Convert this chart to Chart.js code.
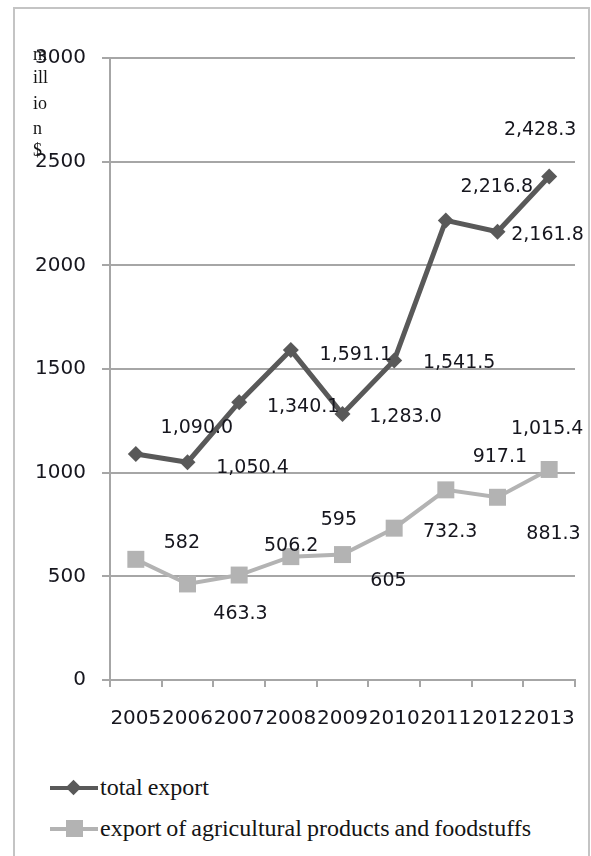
<!DOCTYPE html>
<html>
<head>
<meta charset="utf-8">
<script src="https://cdn.jsdelivr.net/npm/chart.js@4/dist/chart.umd.min.js"></script>
<style>
  html, body { margin: 0; padding: 0; background: #fff; }
  body { width: 591px; height: 856px; position: relative; overflow: hidden; }
  #frame { position: absolute; left: 13px; top: 7px; width: 577px; height: 900px;
           border: 2px solid #c4c4c4; box-sizing: border-box; }
  #wrap { position: absolute; left: 0; top: 0; width: 591px; height: 760px; }
  .legend { position: absolute; left: 50px; font-family: "Liberation Serif", serif;
            font-size: 24px; color: #141414; word-spacing: -1px; display: flex; align-items: center; }
  .legend .icon { position: relative; width: 48px; height: 20px; margin-right: 2px; }
  .legend .icon .ln { position: absolute; left: 0; right: 0; top: 8px; height: 4px; }
  .legend .icon .mk { position: absolute; }
</style>
</head>
<body>
<div id="frame"></div>
<div id="wrap"><canvas id="myChart" width="591" height="760"></canvas></div>
<div class="legend" style="top:774px">
  <div class="icon"><div class="ln" style="background:#595959"></div>
    <div class="mk" style="left:18px;top:4px;width:11px;height:11px;background:#595959;transform:rotate(45deg)"></div></div>
  <span>total export</span>
</div>
<div class="legend" style="top:815px">
  <div class="icon"><div class="ln" style="background:#b3b3b3"></div>
    <div class="mk" style="left:16px;top:1px;width:17px;height:17px;background:#b3b3b3"></div></div>
  <span>export of agricultural products and foodstuffs</span>
</div>
<script>
"use strict";
const years = ['2005', '2006', '2007', '2008', '2009', '2010', '2011', '2012', '2013'];
const totalExport = [1090.0, 1050.4, 1340.1, 1591.1, 1283.0, 1541.5, 2216.8, 2161.8, 2428.3];
const agriExport = [582, 463.3, 506.2, 595, 605, 732.3, 917.1, 881.3, 1015.4];
const yTicks = [0, 500, 1000, 1500, 2000, 2500, 3000];

// label offsets (px) from each point, as placed in the original
const totalLabelOffsets = [[61, -26], [65, 6], [64, 5], [65, 5], [63, 3], [65, 3], [51, -33], [50, 3], [-9, -46]];
const agriLabelOffsets = [[46, -16], [53, 30], [52, -29], [48, -37], [46, 26], [56, 4], [54, -33], [56, 37], [-2, -40]];

const fmtTotal = v => v.toLocaleString('en-US', { minimumFractionDigits: 1, maximumFractionDigits: 1 });
const fmtAgri = v => v.toLocaleString('en-US');

const labelPlugin = {
    id: 'pointLabels',
    afterDatasetsDraw(chart) {
        const ctx = chart.ctx;
        ctx.save();
        ctx.font = '19px "DejaVu Sans"';
        ctx.fillStyle = '#16161e';
        ctx.textAlign = 'center';
        ctx.textBaseline = 'middle';
        const sets = [[totalExport, totalLabelOffsets, fmtTotal], [agriExport, agriLabelOffsets, fmtAgri]];
        sets.forEach(([vals, offs, fmt], di) => {
            const meta = chart.getDatasetMeta(di);
            meta.data.forEach((pt, i) => {
                ctx.fillText(fmt(vals[i]), pt.x + offs[i][0], pt.y + offs[i][1]);
            });
        });
        // axis title, wrapped into a narrow box as in the original
        ctx.font = '18px "Liberation Serif"';
        ctx.textAlign = 'left';
        ctx.fillStyle = '#141414';
        const parts = ['m', 'ill', 'io', 'n', '$'];
        const ys = [55, 78, 104, 129, 151];
        parts.forEach((p, i) => ctx.fillText(p, 33, ys[i]));
        ctx.restore();
    }
};

const canvas = document.getElementById('myChart');
const ctx = canvas.getContext('2d');
new Chart(ctx, {
    type: 'line',
    data: {
        labels: years,
        datasets: [{
            label: 'total export',
            data: totalExport,
            borderColor: '#595959',
            backgroundColor: '#595959',
            borderWidth: 5,
            pointStyle: 'rectRot',
            pointRadius: 8,
            pointBorderWidth: 0,
            tension: 0
        }, {
            label: 'export of agricultural products and foodstuffs',
            data: agriExport,
            borderColor: '#b3b3b3',
            backgroundColor: '#b3b3b3',
            borderWidth: 4,
            pointStyle: 'rect',
            pointRadius: 12,
            pointBorderWidth: 0,
            tension: 0
        }]
    },
    options: {
        responsive: false,
        animation: false,
        layout: { padding: { left: 0, top: 58, right: 16, bottom: 0 } },
        plugins: { legend: { display: false }, tooltip: { enabled: false } },
        scales: {
            x: {
                offset: true,
                grid: { drawOnChartArea: false, offset: true, tickLength: 7, color: '#a6a6a6', lineWidth: 2 },
                border: { color: '#a6a6a6', width: 2 },
                ticks: { font: { family: 'DejaVu Sans', size: 20 }, color: '#16161e', padding: 20, maxRotation: 0, autoSkip: false },
                afterFit: s => { s.height = 80; s.paddingLeft = 0; s.paddingRight = 0; }
            },
            y: {
                min: 0,
                max: 3000,
                afterBuildTicks: s => { s.ticks = yTicks.map(v => ({ value: v })); },
                grid: { color: '#a6a6a6', lineWidth: 2, tickLength: 8 },
                border: { color: '#a6a6a6', width: 2 },
                ticks: { font: { family: 'DejaVu Sans', size: 20 }, color: '#16161e', padding: 16, callback: v => String(v) },
                afterFit: s => { s.width = 110; }
            }
        }
    },
    plugins: [labelPlugin]
});
</script>
</body>
</html>
